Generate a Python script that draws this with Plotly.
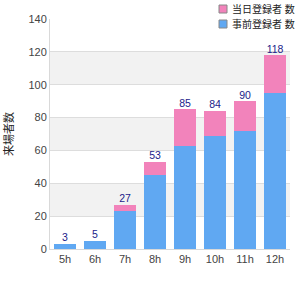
import plotly.graph_objects as go

hours = ["5h", "6h", "7h", "8h", "9h", "10h", "11h", "12h"]
blue_vals = [3, 5, 23, 45, 63, 69, 72, 95]
pink_vals = [0, 0, 4, 8, 22, 15, 18, 23]
totals = [3, 5, 27, 53, 85, 84, 90, 118]
blue_name = "事前登録者 数"
pink_name = "当日登録者 数"
y_title = "来場者数"
y_ticks = [0, 20, 40, 60, 80, 100, 120, 140]
bands = [(20, 40), (60, 80), (100, 120)]
blue_color = "#60a8f2"
pink_color = "#f283bb"

font_fam = "Liberation Sans, Arial, Noto Sans CJK JP, sans-serif"

fig = go.Figure()
fig.add_trace(go.Bar(x=hours, y=blue_vals, name=blue_name, showlegend=False,
                     marker=dict(color=blue_color, line=dict(width=0))))
fig.add_trace(go.Bar(x=hours, y=pink_vals, name=pink_name, showlegend=False,
                     marker=dict(color=pink_color, line=dict(width=0))))
fig.add_trace(go.Scatter(x=hours, y=totals, mode="text", text=[str(t) for t in totals],
                         textposition="top center", showlegend=False,
                         textfont=dict(color="#1b1b8a", size=10.5, family=font_fam),
                         hoverinfo="skip", cliponaxis=False))

shapes = []
for a, b in bands:
    shapes.append(dict(type="rect", xref="paper", yref="y", x0=0, x1=1, y0=a, y1=b,
                       fillcolor="#f2f2f2", line=dict(width=0), layer="below"))

# manual legend (pixel geometry: plot area x 50..290, y 19..249)
def px_x(p):
    return (p - 50) / 240.0

def px_y(p):
    return (249 - p) / 230.0

annotations = []
legend_items = [(pink_name, pink_color, 9), (blue_name, blue_color, 24)]
text_right = 297
text_width = 64
for name, col, cy in legend_items:
    sx1 = text_right - text_width - 6
    shapes.append(dict(type="rect", xref="paper", yref="paper",
                       x0=px_x(sx1 - 8), x1=px_x(sx1), y0=px_y(cy + 4), y1=px_y(cy - 4),
                       fillcolor=col, line=dict(color="#888888", width=1), layer="above"))
    annotations.append(dict(text=name, xref="paper", yref="paper", x=px_x(text_right),
                            y=px_y(cy), xanchor="right", yanchor="middle", showarrow=False,
                            font=dict(size=10, color="#222", family=font_fam)))

fig.update_layout(
    width=300, height=300,
    margin=dict(l=50, r=10, t=19, b=51, autoexpand=False),
    barmode="stack", bargap=0.27,
    plot_bgcolor="white", paper_bgcolor="white",
    font=dict(family=font_fam, size=11, color="#444"),
    shapes=shapes, annotations=annotations,
    xaxis=dict(showline=True, linecolor="#d9d9d9", linewidth=1, ticks="",
               tickfont=dict(size=11, color="#444"), showgrid=False),
    yaxis=dict(range=[0, 140], tickvals=y_ticks, showgrid=True, gridcolor="#dddddd",
               showline=True, linecolor="#d9d9d9", zeroline=False, ticks="",
               tickfont=dict(size=11, color="#444"),
               title=dict(text=y_title, font=dict(size=11, color="#222"), standoff=12)),
    showlegend=False,
)

fig.write_html("out.html")
